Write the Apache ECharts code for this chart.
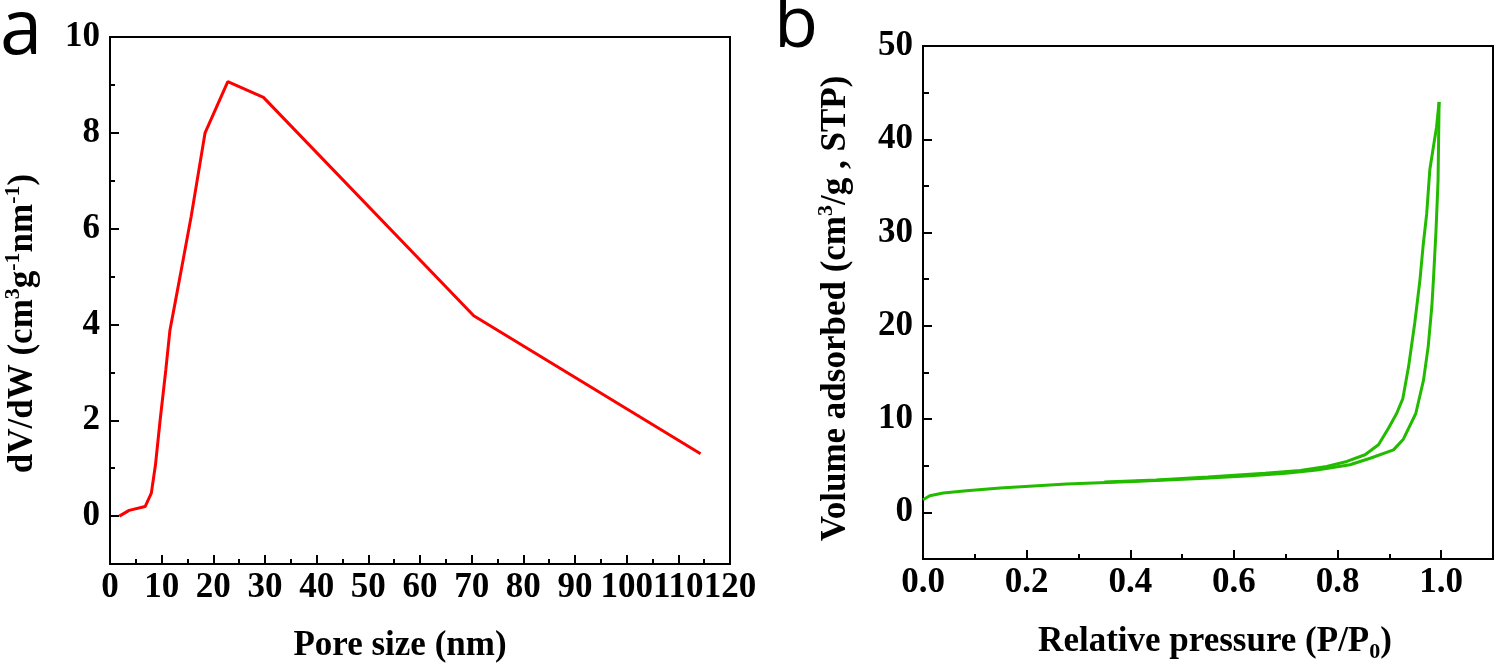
<!DOCTYPE html>
<html>
<head>
<meta charset="utf-8">
<script src="https://cdn.jsdelivr.net/npm/echarts@6/dist/echarts.min.js"></script>
<style>html,body{margin:0;padding:0;background:#fff}#c{width:1500px;height:672px}</style>
</head>
<body>
<div id="c"></div>
<script>
// Panel a: pore size distribution
const poreSize = [1.8, 3.7, 6.8, 8.0, 8.8, 9.7, 10.8, 11.6, 12.6, 13.9, 15.7, 18.4, 22.8, 29.7, 70.4, 114.3];
const dVdW     = [0, 0.12, 0.2, 0.48, 1.07, 2.0, 3.05, 3.88, 4.45, 5.2, 6.25, 8.0, 9.07, 8.74, 4.18, 1.3];
// Panel b: N2 isotherm
const pAds = [0, 0.013, 0.039, 0.084, 0.149, 0.277, 0.406, 0.534, 0.631, 0.7, 0.76, 0.824, 0.863, 0.908, 0.927, 0.951, 0.966, 0.975, 0.982, 0.985, 0.990, 0.994, 0.996];
const vAds = [1.36, 1.79, 2.07, 2.32, 2.61, 3.04, 3.32, 3.62, 3.93, 4.2, 4.55, 5.1, 5.8, 6.7, 7.85, 10.6, 14.2, 17.8, 22.1, 24.9, 30.2, 35.6, 44.0];
const pDes = [0.996, 0.991, 0.985, 0.978, 0.972, 0.965, 0.959, 0.949, 0.937, 0.926, 0.914, 0.898, 0.879, 0.853, 0.818, 0.779, 0.728, 0.66, 0.55, 0.45, 0.35];
const vDes = [44.0, 41.3, 39.2, 36.7, 32.0, 28.5, 24.9, 20.3, 15.6, 12.2, 10.6, 9.0, 7.25, 6.18, 5.46, 4.93, 4.5, 4.2, 3.78, 3.48, 3.25];
// Tick values
const leftYTicks  = [0, 2, 4, 6, 8, 10];
const leftYMinor  = [1, 3, 5, 7, 9];
const rightXTicks = [0, 0.2, 0.4, 0.6, 0.8, 1.0];
const rightXMinor = [0.1, 0.3, 0.5, 0.7, 0.9];
const rightYTicks = [0, 10, 20, 30, 40, 50];
const rightYMinor = [5, 15, 25, 35, 45];

const serif = 'Liberation Serif';
const black = '#000';
const lineS = {color: black, width: 2};
const lbl = {fontFamily: serif, fontWeight: 'bold', fontSize: 35, color: black};
const nameS = {fontFamily: serif, fontWeight: 'bold', fontSize: 35, color: black};
const zip = (a, b) => a.map((v, i) => [v, b[i]]);
const richS = (va) => ({
  t: {fontFamily: serif, fontWeight: 'bold', fontSize: 35, color: black, lineHeight: 42},
  s: {fontFamily: serif, fontWeight: 'bold', fontSize: 22, color: black, verticalAlign: va, lineHeight: 22}
});

function mainAxis(extra) {
  return Object.assign({
    type: 'value',
    axisLine: {show: true, onZero: false, lineStyle: lineS},
    splitLine: {show: false},
    minorSplitLine: {show: false}
  }, extra);
}
function minorAxis(extra, values, len) {
  return Object.assign({
    type: 'value',
    axisLine: {show: false, onZero: false},
    splitLine: {show: false},
    axisLabel: {show: false},
    axisTick: {show: true, inside: true, length: len, customValues: values, lineStyle: lineS}
  }, extra);
}

const chart = echarts.init(document.getElementById('c'));
chart.setOption({
  backgroundColor: '#fff',
  animation: false,
  grid: [
    {left: 110, right: 770, top: 37, bottom: 108, show: true, borderColor: black, borderWidth: 2, containLabel: false, outerBoundsMode: 'none'},
    {left: 923, right: 7, top: 46, bottom: 113, show: true, borderColor: black, borderWidth: 2, containLabel: false, outerBoundsMode: 'none'}
  ],
  graphic: [
    {type: 'text', left: 0, top: -6, style: {text: 'a', font: '76px "Open Sans"', fill: black}},
    {type: 'text', left: 774, top: -10, style: {text: 'b', font: '72px "Open Sans"', fill: black}}
  ],
  xAxis: [
    mainAxis({
      gridIndex: 0, position: 'bottom', min: 0, max: 120, interval: 10,
      axisTick: {show: true, inside: true, length: 9, lineStyle: lineS},
      minorTick: {show: true, splitNumber: 2, length: 5, lineStyle: lineS},
      axisLabel: Object.assign({margin: 6, showMinLabel: true, showMaxLabel: true, hideOverlap: false}, lbl),
      name: 'Pore size (nm)', nameLocation: 'middle', nameGap: 64,
      nameTextStyle: Object.assign({padding: [0, 40, 0, 0]}, nameS)
    }),
    mainAxis({
      gridIndex: 1, position: 'bottom', min: 0, max: 1.1,
      axisTick: {show: true, inside: true, length: 9, customValues: rightXTicks, lineStyle: lineS},
      axisLabel: Object.assign({margin: 6, customValues: rightXTicks, formatter: v => Number(v).toFixed(1)}, lbl),
      name: '{t|Relative pressure (P/P}{s|0}{t|)}', nameLocation: 'middle', nameGap: 62,
      nameTextStyle: Object.assign({padding: [0, 0, 0, 14]}, nameS, {rich: richS('bottom')})
    }),
    minorAxis({gridIndex: 1, position: 'bottom', min: 0, max: 1.1}, rightXMinor, 5)
  ],
  yAxis: [
    mainAxis({
      gridIndex: 0, position: 'left', min: -1, max: 10,
      axisTick: {show: true, inside: true, length: 9, customValues: leftYTicks, lineStyle: lineS},
      axisLabel: Object.assign({margin: 10, customValues: leftYTicks}, lbl),
      name: '{t|dV/dW (cm}{s|3}{t|g}{s|-1}{t|nm}{s|-1}{t|)}', nameLocation: 'middle', nameGap: 66,
      nameTextStyle: Object.assign({padding: [0, 46, 0, 0]}, nameS, {rich: richS('top')})
    }),
    minorAxis({gridIndex: 0, position: 'left', min: -1, max: 10}, leftYMinor, 5),
    mainAxis({
      gridIndex: 1, position: 'left', min: -5, max: 50,
      axisTick: {show: true, inside: true, length: 9, customValues: rightYTicks, lineStyle: lineS},
      axisLabel: Object.assign({margin: 10, customValues: rightYTicks}, lbl),
      name: '{t|Volume adsorbed (cm}{s|3}{t|/g , STP)}', nameLocation: 'middle', nameGap: 66,
      nameTextStyle: Object.assign({padding: [0, 12, 0, 0]}, nameS, {rich: richS('top')})
    }),
    minorAxis({gridIndex: 1, position: 'left', min: -5, max: 50}, rightYMinor, 6)
  ],
  series: [
    {type: 'line', xAxisIndex: 0, yAxisIndex: 0, data: zip(poreSize, dVdW), showSymbol: false, symbol: 'none',
     lineStyle: {color: '#ff0000', width: 3}, itemStyle: {color: '#ff0000'}},
    {type: 'line', xAxisIndex: 1, yAxisIndex: 2, data: zip(pAds, vAds), showSymbol: false, symbol: 'none',
     lineStyle: {color: '#22bb00', width: 3}, itemStyle: {color: '#22bb00'}},
    {type: 'line', xAxisIndex: 1, yAxisIndex: 2, data: zip(pDes, vDes), showSymbol: false, symbol: 'none',
     lineStyle: {color: '#22bb00', width: 3}, itemStyle: {color: '#22bb00'}}
  ]
});
</script>
</body>
</html>
